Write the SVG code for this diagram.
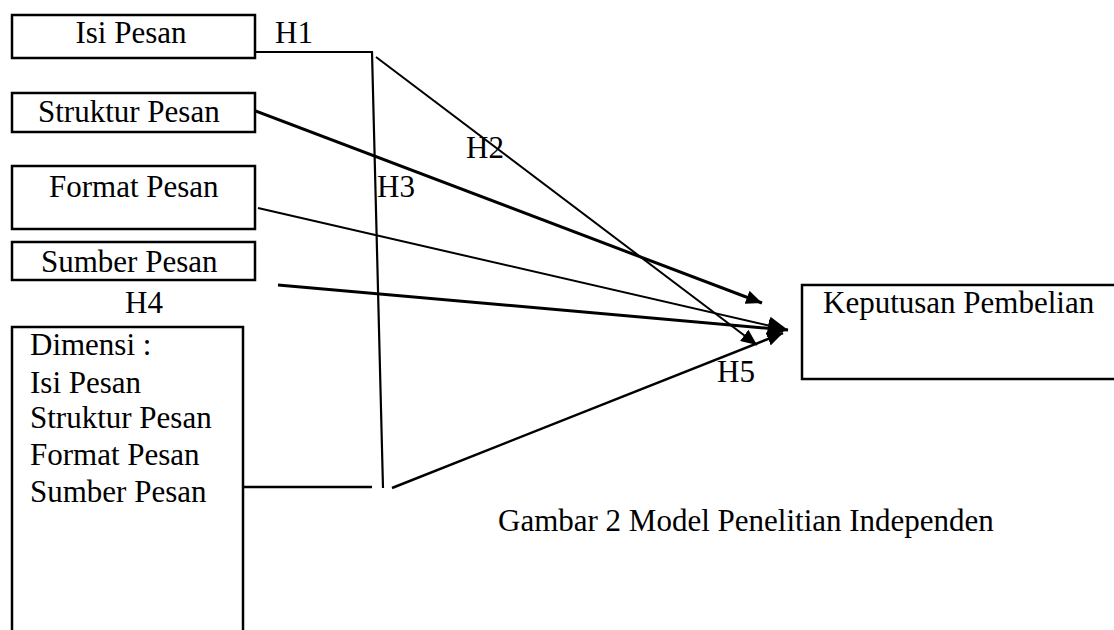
<svg xmlns="http://www.w3.org/2000/svg" width="1114" height="630" viewBox="0 0 1114 630">
<style>
.box{fill:#fff;stroke:#000;stroke-width:2.5}
.t{font-family:"Liberation Serif","Times New Roman",serif;font-size:31px;fill:#000}
.c{fill:none;stroke:#000}
</style>
<defs>
<marker id="ah" markerUnits="userSpaceOnUse" markerWidth="18" markerHeight="14" refX="16" refY="7" orient="auto" viewBox="0 0 18 14"><path d="M0,0 L16,7 L0,14 Z" fill="#000"/></marker>
<marker id="ahb" markerUnits="userSpaceOnUse" markerWidth="22" markerHeight="18" refX="20" refY="9" orient="auto" viewBox="0 0 22 18"><path d="M0,0 L20,9 L0,18 Z" fill="#000"/></marker>
</defs>
<rect width="1114" height="630" fill="#fff"/>
<g id="connectors">
<polyline class="c" stroke-width="2.2" points="255,52 372,52 383,488"/>
<line class="c" stroke-width="2" x1="376" y1="57" x2="757" y2="345" marker-end="url(#ah)"/>
<line class="c" stroke-width="3" x1="245" y1="107" x2="762" y2="303" marker-end="url(#ah)"/>
<line class="c" stroke-width="2" x1="258" y1="208" x2="788" y2="330" marker-end="url(#ahb)"/>
<line class="c" stroke-width="3" x1="278" y1="285" x2="788" y2="330" marker-end="url(#ahb)"/>
<line class="c" stroke-width="2.5" x1="240" y1="487" x2="372" y2="487"/>
<line class="c" stroke-width="2.5" x1="392" y1="488" x2="783" y2="333" marker-end="url(#ah)"/>
</g>
<g id="isi-pesan"><rect class="box" x="12" y="15" width="243" height="43"/><text class="t" x="131" y="43" text-anchor="middle">Isi Pesan</text></g>
<g id="struktur-pesan"><rect class="box" x="12" y="93" width="243" height="39"/><text class="t" x="38" y="122">Struktur Pesan</text></g>
<g id="format-pesan"><rect class="box" x="12" y="166" width="243" height="63"/><text class="t" x="49" y="197">Format Pesan</text></g>
<g id="sumber-pesan"><rect class="box" x="12" y="242" width="243" height="38"/><text class="t" x="41" y="272">Sumber Pesan</text></g>
<g id="dimensi"><rect class="box" x="12" y="327" width="231" height="320"/>
<text class="t" x="30" y="355">Dimensi :</text>
<text class="t" x="30" y="393">Isi Pesan</text>
<text class="t" x="30" y="428">Struktur Pesan</text>
<text class="t" x="30" y="465">Format Pesan</text>
<text class="t" x="30" y="502">Sumber Pesan</text></g>
<g id="keputusan-pembelian"><rect class="box" x="802" y="285" width="330" height="94"/><text class="t" x="823" y="313">Keputusan Pembelian</text></g>
<g id="labels">
<text class="t" x="275" y="43">H1</text>
<text class="t" x="466" y="158">H2</text>
<text class="t" x="377" y="197">H3</text>
<text class="t" x="125" y="313">H4</text>
<text class="t" x="717" y="382">H5</text>
<text class="t" x="498" y="531">Gambar 2 Model Penelitian Independen</text>
</g>
</svg>
